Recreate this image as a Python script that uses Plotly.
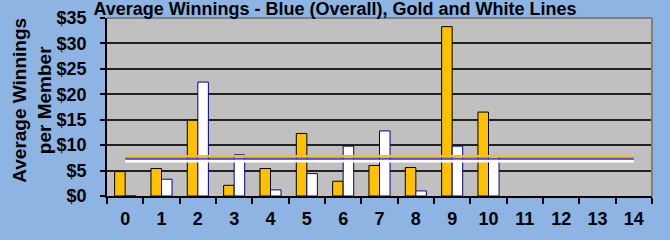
import plotly.graph_objects as go

categories = [str(i) for i in range(15)]
gold_values = [4.8, 5.4, 14.9, 2.1, 5.4, 12.3, 2.9, 6.0, 5.6, 33.3, 16.5, None, None, None, None]
white_values = [0, 3.3, 22.4, 8.1, 1.2, 4.4, 9.8, 12.8, 1.0, 9.8, 7.9, None, None, None, None]
gold_line = [7.8] * 15
blue_line = [7.3] * 15
white_line = [6.85] * 15
y_ticks = [0, 5, 10, 15, 20, 25, 30, 35]
y_tick_labels = ["$0", "$5", "$10", "$15", "$20", "$25", "$30", "$35"]

FONT = "Liberation Sans, Arial, sans-serif"

fig = go.Figure()
fig.add_trace(go.Bar(x=categories, y=gold_values, marker=dict(color="#FFC000", line=dict(color="#000000", width=1)), name="Gold"))
fig.add_trace(go.Bar(x=categories, y=white_values, marker=dict(color="#FFFFFF", line=dict(color="#000080", width=1)), name="White"))
fig.add_trace(go.Scatter(x=categories, y=gold_line, mode="lines", line=dict(color="#FFC000", width=2.5), name="Gold avg"))
fig.add_trace(go.Scatter(x=categories, y=blue_line, mode="lines", line=dict(color="#4A4AF0", width=2), name="Overall avg"))
fig.add_trace(go.Scatter(x=categories, y=white_line, mode="lines", line=dict(color="#FFFFFF", width=2.5), name="White avg"))

fig.update_layout(
    width=670, height=240,
    margin=dict(l=107, r=18, t=18, b=44, autoexpand=False),
    paper_bgcolor="#8DB4E2",
    plot_bgcolor="#C0C0C0",
    showlegend=False,
    barmode="group",
    bargap=0.42,
    bargroupgap=0,
    font=dict(family=FONT, size=18, color="#000000", weight="bold"),
    title=dict(text="Average Winnings - Blue (Overall), Gold and White Lines",
               x=0.5, xanchor="center", y=0.965, yanchor="middle", automargin=False,
               font=dict(family=FONT, size=18, weight="bold", color="#000000")),
    xaxis=dict(type="category", categoryorder="array", categoryarray=categories,
               showline=True, linecolor="#000000", linewidth=1.5,
               ticks="outside", ticklen=6, tickcolor="#000000", tickwidth=1.5,
               tickson="boundaries", showgrid=False, ticklabelstandoff=6,
               tickfont=dict(family=FONT, size=18, weight="bold"),
               range=[-0.5, 14.5], automargin=False),
    yaxis=dict(range=[0, 35], tickvals=y_ticks, ticktext=y_tick_labels,
               showline=True, linecolor="#000000", linewidth=1.5,
               ticks="outside", ticklen=5, tickcolor="#000000", tickwidth=1.5,
               showgrid=True, gridcolor="#222222", gridwidth=1.5,
               zeroline=False, ticklabelstandoff=10, automargin=False,
               tickfont=dict(family=FONT, size=18, weight="bold")),
    shapes=[
        dict(type="line", xref="paper", yref="paper", x0=0, x1=1, y0=1, y1=1,
             line=dict(color="#808080", width=2)),
        dict(type="line", xref="paper", yref="paper", x0=1, x1=1, y0=0, y1=1,
             line=dict(color="#808080", width=2)),
    ],
    annotations=[
        dict(text="Average Winnings<br>per Member", xref="paper", yref="paper",
             x=-0.137, y=0.537, xanchor="center", yanchor="middle", textangle=-90,
             showarrow=False, font=dict(family=FONT, size=19, weight="bold", color="#000000")),
    ],
)

fig.write_html("out.html", config={"displayModeBar": False})

with open("out.html", "r", encoding="utf-8") as f:
    html = f.read()
html = html.replace("<head>", "<head><style>html,body{margin:0;padding:0;overflow:hidden;}</style>", 1)
with open("out.html", "w", encoding="utf-8") as f:
    f.write(html)
